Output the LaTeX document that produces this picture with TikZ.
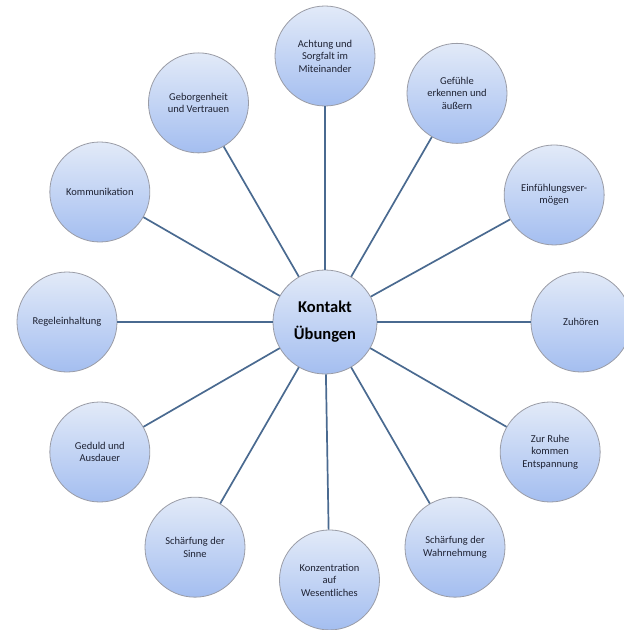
\documentclass[tikz,border=0pt]{standalone}
\usepackage{fontspec}
\setmainfont{Carlito}
\usetikzlibrary{calc}
\definecolor{bubbletop}{HTML}{E2EAF8}
\definecolor{bubblebottom}{HTML}{A4BEF0}
\definecolor{bubbleline}{HTML}{9A9CA6}
\definecolor{spoke}{HTML}{4A6A90}
\definecolor{bubbletext}{HTML}{1E2233}
\tikzset{
  bubble/.style={circle,draw=bubbleline,line width=0.8pt,top color=bubbletop,bottom color=bubblebottom,
    minimum size=100pt,inner sep=0pt,align=center,text=bubbletext,font=\fontsize{10.5}{12.5}\selectfont},
  hub/.style={bubble,minimum size=104pt,text=black,font=\fontsize{16.5}{27}\selectfont\bfseries},
  spokeline/.style={draw=spoke,line width=1.7pt}
}

\begin{document}
\begin{tikzpicture}[x=1pt,y=1pt]
            \useasboundingbox (-325,-308) rectangle (299,322);

            \node[hub] (kontakt) at (0,0) {Kontakt\\Übungen};

            \node[bubble] (achtung) at (90:266) {Achtung und\\Sorgfalt im\\Miteinander};
            \node[bubble] (gefuehle) at (60:264) {Gefühle\\erkennen und\\äußern};
            \node[bubble] (einfuehlung) at (29:262) {Einfühlungsver-\\mögen};
            \node[bubble] (zuhoeren) at (0:256) {Zuhören};
            \node[bubble] (ruhe) at (-30:260) {Zur Ruhe\\kommen\\Entspannung};
            \node[bubble] (wahrnehmung) at (-60:260) {Schärfung der\\Wahrnehmung};
            \node[bubble] (konzentration) at (-89:258) {Konzentration\\auf\\Wesentliches};
            \node[bubble] (sinne) at (-120:260) {Schärfung der\\Sinne};
            \node[bubble] (geduld) at (-150:260) {Geduld und\\Ausdauer};
            \node[bubble] (regel) at (180:258) {Regeleinhaltung};
            \node[bubble] (kommunikation) at (150:260) {Kommunikation};
            \node[bubble] (geborgenheit) at (120:253) {Geborgenheit\\und Vertrauen};

            \draw[spokeline] (kontakt) -- (achtung);
            \draw[spokeline] (kontakt) -- (gefuehle);
            \draw[spokeline] (kontakt) -- (einfuehlung);
            \draw[spokeline] (kontakt) -- (zuhoeren);
            \draw[spokeline] (kontakt) -- (ruhe);
            \draw[spokeline] (kontakt) -- (wahrnehmung);
            \draw[spokeline] (kontakt) -- (konzentration);
            \draw[spokeline] (kontakt) -- (sinne);
            \draw[spokeline] (kontakt) -- (geduld);
            \draw[spokeline] (kontakt) -- (regel);
            \draw[spokeline] (kontakt) -- (kommunikation);
            \draw[spokeline] (kontakt) -- (geborgenheit);
        \end{tikzpicture}
\end{document}
